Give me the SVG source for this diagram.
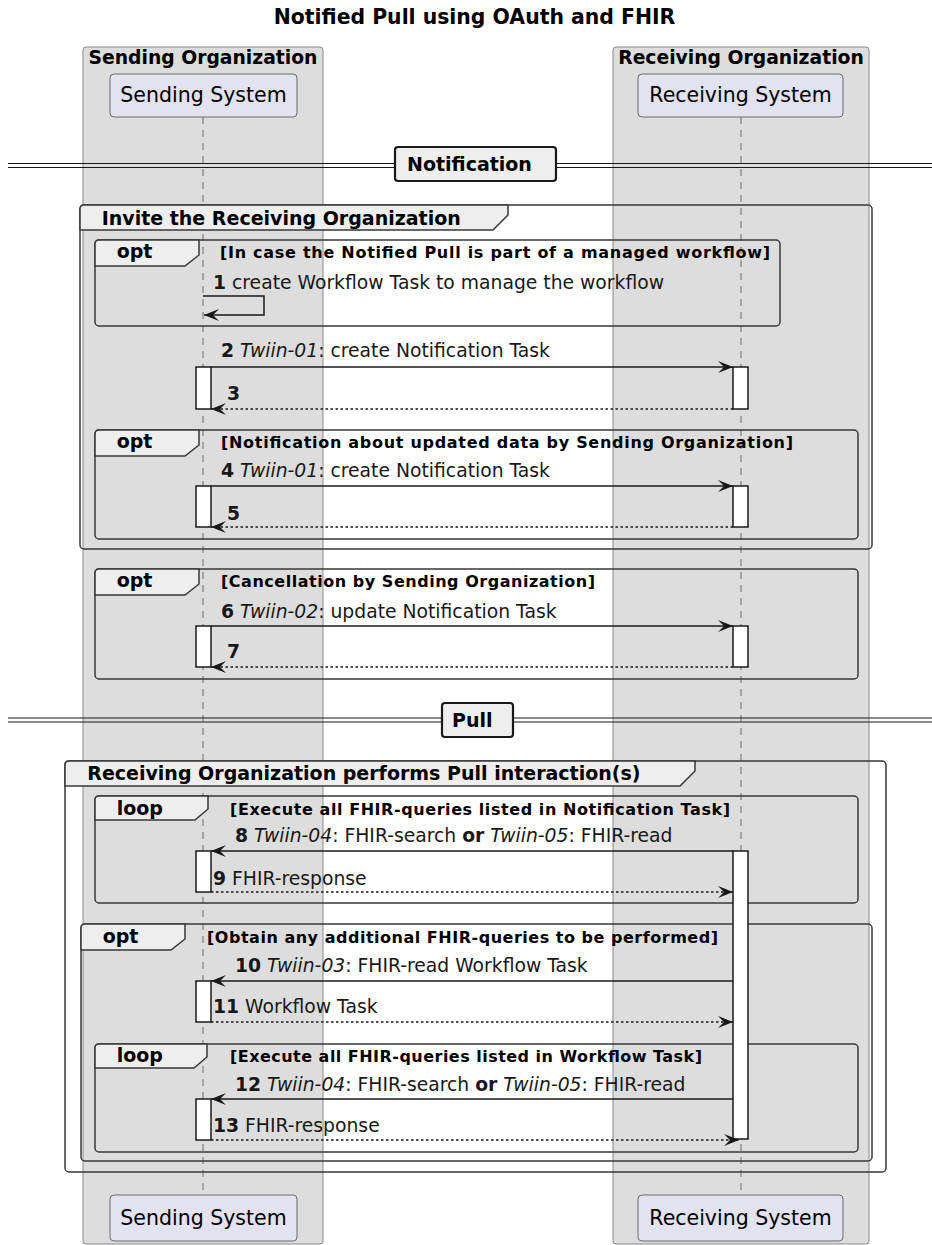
<svg xmlns="http://www.w3.org/2000/svg" width="932" height="1245" viewBox="0 0 932 1245">
  <defs>
    <style>
      text { font-family: "DejaVu Sans", "Liberation Sans", sans-serif; fill: #000; }
      .title { font-size: 20.4px; font-weight: bold; }
      .orgbox { fill: #DDDDDD; stroke: #8a8a8a; stroke-width: 1; }
      .orgtxt { font-size: 18.75px; font-weight: bold; }
      .part { fill: #E2E2F0; stroke: #6a6a6a; stroke-width: 1; }
      .parttxt { font-size: 20.5px; }
      .life { stroke: #6a6a6a; stroke-width: 1; stroke-dasharray: 7,6; fill: none; }
      .frame { fill: none; stroke: #383838; stroke-width: 1.5; }
      .tab { fill: #EEEEEE; stroke: #383838; stroke-width: 1.5; }
      .hdr { font-size: 19px; font-weight: bold; }
      .cond { font-size: 16px; font-weight: bold; }
      .msg { font-size: 18.75px; fill: #181818; }
      .act { fill: #FFFFFF; stroke: #181818; stroke-width: 1.5; }
      .sepline { stroke: #181818; stroke-width: 1.2; fill: none; }
      .sepbox { fill: #EEEEEE; stroke: #181818; stroke-width: 2.2; }
      .line { stroke: #181818; stroke-width: 1.5; fill: none; }
      .dash { stroke: #181818; stroke-width: 1.5; fill: none; stroke-dasharray: 2.5,2.5; }
      .b { font-weight: bold; }
      .i { font-style: italic; }
    </style>
    <marker id="ah" viewBox="0 0 16 14" markerWidth="16" markerHeight="14" refX="15" refY="7" orient="auto" markerUnits="userSpaceOnUse">
      <path d="M15,7 L0,1 L6,7 L0,13 Z" fill="#181818" stroke="none"/>
    </marker>
  </defs>

  <rect width="932" height="1245" fill="#FFFFFF"/>

  <text class="title" x="474.5" y="24" text-anchor="middle">Notified Pull using OAuth and FHIR</text>

  <!-- organization swimlanes -->
  <g id="org-sending">
    <rect class="orgbox" x="83" y="47" width="240" height="1197" rx="3"/>
    <text class="orgtxt" x="203" y="64" text-anchor="middle">Sending Organization</text>
  </g>
  <g id="org-receiving">
    <rect class="orgbox" x="613" y="47" width="256" height="1197" rx="3"/>
    <text class="orgtxt" x="741" y="64" text-anchor="middle">Receiving Organization</text>
  </g>

  <!-- lifelines -->
  <g id="lifelines">
    <line class="life" x1="203" y1="117" x2="203" y2="1195"/>
    <line class="life" x1="741" y1="117" x2="741" y2="1195"/>
  </g>

  <!-- participants, top and bottom -->
  <g id="sending-system">
    <rect class="part" x="110" y="74" width="187" height="43" rx="4"/>
    <text class="parttxt" x="203.5" y="102" text-anchor="middle">Sending System</text>
    <rect class="part" x="110" y="1195" width="187" height="46" rx="4"/>
    <text class="parttxt" x="203.5" y="1225" text-anchor="middle">Sending System</text>
  </g>
  <g id="receiving-system">
    <rect class="part" x="638" y="74" width="205" height="43" rx="4"/>
    <text class="parttxt" x="740.5" y="102" text-anchor="middle">Receiving System</text>
    <rect class="part" x="638" y="1195" width="205" height="46" rx="4"/>
    <text class="parttxt" x="740.5" y="1225" text-anchor="middle">Receiving System</text>
  </g>

  <!-- section separators -->
  <g id="sep-notification">
    <line class="sepline" x1="8" y1="163.5" x2="932" y2="163.5"/>
    <line class="sepline" x1="8" y1="167.5" x2="932" y2="167.5"/>
    <rect class="sepbox" x="395" y="147" width="161" height="34" rx="3"/>
    <text class="hdr" x="407" y="171">Notification</text>
  </g>
  <g id="sep-pull">
    <line class="sepline" x1="8" y1="718" x2="932" y2="718"/>
    <line class="sepline" x1="8" y1="722" x2="932" y2="722"/>
    <rect class="sepbox" x="442" y="703" width="71" height="34" rx="3"/>
    <text class="hdr" x="452" y="727">Pull</text>
  </g>

  <!-- fragment: invite -->
  <g id="grp-invite">
    <rect class="frame" x="80" y="205" width="792" height="344" rx="4"/>
    <path class="tab" d="M80,230 L80,209 Q80,205 84,205 L508,205 L508,215 L493,230 Z"/>
    <text class="hdr" x="101.7" y="225">Invite the Receiving Organization</text>
  </g>
  <g id="opt-workflow">
    <rect class="frame" x="95" y="240" width="685" height="86" rx="4"/>
    <path class="tab" d="M95,266 L95,244 Q95,240 99,240 L199,240 L199,255 L185,266 Z"/>
    <text class="hdr" x="116.7" y="258">opt</text>
    <text class="cond" x="220" y="258" textLength="550" lengthAdjust="spacing">[In case the Notified Pull is part of a managed workflow]</text>
  </g>
  <g id="opt-update">
    <rect class="frame" x="95" y="430" width="763" height="109" rx="4"/>
    <path class="tab" d="M95,456 L95,434 Q95,430 99,430 L199,430 L199,445 L185,456 Z"/>
    <text class="hdr" x="116.7" y="448">opt</text>
    <text class="cond" x="221" y="448" textLength="572" lengthAdjust="spacing">[Notification about updated data by Sending Organization]</text>
  </g>
  <g id="opt-cancel">
    <rect class="frame" x="95" y="569" width="763" height="110" rx="4"/>
    <path class="tab" d="M95,595 L95,573 Q95,569 99,569 L199,569 L199,584 L185,595 Z"/>
    <text class="hdr" x="116.7" y="587">opt</text>
    <text class="cond" x="221" y="587" textLength="374" lengthAdjust="spacing">[Cancellation by Sending Organization]</text>
  </g>

  <!-- fragment: pull -->
  <g id="grp-pull">
    <rect class="frame" x="65" y="761" width="821" height="411" rx="4"/>
    <path class="tab" d="M65,786 L65,765 Q65,761 69,761 L695,761 L695,771 L680,786 Z"/>
    <text class="hdr" x="87.3" y="780">Receiving Organization performs Pull interaction(s)</text>
  </g>
  <g id="loop-notification">
    <rect class="frame" x="95" y="796" width="763" height="107" rx="4"/>
    <path class="tab" d="M95,820 L95,800 Q95,796 99,796 L208,796 L208,809 L195,820 Z"/>
    <text class="hdr" x="116.7" y="815">loop</text>
    <text class="cond" x="230" y="815" textLength="500" lengthAdjust="spacing">[Execute all FHIR-queries listed in Notification Task]</text>
  </g>
  <g id="opt-additional">
    <rect class="frame" x="81" y="924" width="791" height="237" rx="4"/>
    <path class="tab" d="M81,950 L81,928 Q81,924 85,924 L185,924 L185,939 L171,950 Z"/>
    <text class="hdr" x="102.7" y="943">opt</text>
    <text class="cond" x="207" y="943" textLength="511" lengthAdjust="spacing">[Obtain any additional FHIR-queries to be performed]</text>
  </g>
  <g id="loop-workflow">
    <rect class="frame" x="95" y="1044" width="763" height="108" rx="4"/>
    <path class="tab" d="M95,1068 L95,1048 Q95,1044 99,1044 L207,1044 L207,1057 L194,1068 Z"/>
    <text class="hdr" x="116.7" y="1062">loop</text>
    <text class="cond" x="230" y="1062" textLength="472" lengthAdjust="spacing">[Execute all FHIR-queries listed in Workflow Task]</text>
  </g>

  <!-- activation bars -->
  <g id="activations">
    <rect class="act" x="196" y="367" width="15" height="42"/>
    <rect class="act" x="733" y="367" width="15" height="42"/>
    <rect class="act" x="196" y="486" width="15" height="41"/>
    <rect class="act" x="733" y="486" width="15" height="41"/>
    <rect class="act" x="196" y="626" width="15" height="41"/>
    <rect class="act" x="733" y="626" width="15" height="41"/>
    <rect class="act" x="733" y="851" width="15" height="288"/>
    <rect class="act" x="196" y="851" width="15" height="41"/>
    <rect class="act" x="196" y="981" width="15" height="41"/>
    <rect class="act" x="196" y="1099" width="15" height="41"/>
  </g>

  <!-- messages -->
  <g id="connectors">
    <path class="line" d="M203,296 L264,296 L264,315 L204,315" marker-end="url(#ah)"/>
    <line class="line" x1="211" y1="367" x2="733" y2="367" marker-end="url(#ah)"/>
    <line class="dash" x1="733" y1="409" x2="211" y2="409" marker-end="url(#ah)"/>
    <line class="line" x1="211" y1="486" x2="733" y2="486" marker-end="url(#ah)"/>
    <line class="dash" x1="733" y1="527" x2="211" y2="527" marker-end="url(#ah)"/>
    <line class="line" x1="211" y1="626" x2="733" y2="626" marker-end="url(#ah)"/>
    <line class="dash" x1="733" y1="667" x2="211" y2="667" marker-end="url(#ah)"/>
    <line class="line" x1="733" y1="851" x2="211" y2="851" marker-end="url(#ah)"/>
    <line class="dash" x1="211" y1="892" x2="733" y2="892" marker-end="url(#ah)"/>
    <line class="line" x1="733" y1="981" x2="211" y2="981" marker-end="url(#ah)"/>
    <line class="dash" x1="211" y1="1022" x2="733" y2="1022" marker-end="url(#ah)"/>
    <line class="line" x1="733" y1="1099" x2="211" y2="1099" marker-end="url(#ah)"/>
    <line class="dash" x1="211" y1="1140" x2="739" y2="1140" marker-end="url(#ah)"/>
  </g>

  <g id="labels">
    <text class="msg" x="213" y="289"><tspan class="b">1</tspan> create Workflow Task to manage the workflow</text>
    <text class="msg" x="221" y="357"><tspan class="b">2</tspan> <tspan class="i">Twiin-01</tspan>: create Notification Task</text>
    <text class="msg" x="227" y="400"><tspan class="b">3</tspan></text>
    <text class="msg" x="221" y="477"><tspan class="b">4</tspan> <tspan class="i">Twiin-01</tspan>: create Notification Task</text>
    <text class="msg" x="227" y="520"><tspan class="b">5</tspan></text>
    <text class="msg" x="221" y="618"><tspan class="b">6</tspan> <tspan class="i">Twiin-02</tspan>: update Notification Task</text>
    <text class="msg" x="227" y="658"><tspan class="b">7</tspan></text>
    <text class="msg" x="235" y="842"><tspan class="b">8</tspan> <tspan class="i">Twiin-04</tspan>: FHIR-search <tspan class="b">or</tspan> <tspan class="i">Twiin-05</tspan>: FHIR-read</text>
    <text class="msg" x="213" y="885"><tspan class="b">9</tspan> FHIR-response</text>
    <text class="msg" x="235" y="972"><tspan class="b">10</tspan> <tspan class="i">Twiin-03</tspan>: FHIR-read Workflow Task</text>
    <text class="msg" x="213" y="1013"><tspan class="b">11</tspan> Workflow Task</text>
    <text class="msg" x="235" y="1091"><tspan class="b">12</tspan> <tspan class="i">Twiin-04</tspan>: FHIR-search <tspan class="b">or</tspan> <tspan class="i">Twiin-05</tspan>: FHIR-read</text>
    <text class="msg" x="213" y="1132"><tspan class="b">13</tspan> FHIR-response</text>
  </g>
</svg>
